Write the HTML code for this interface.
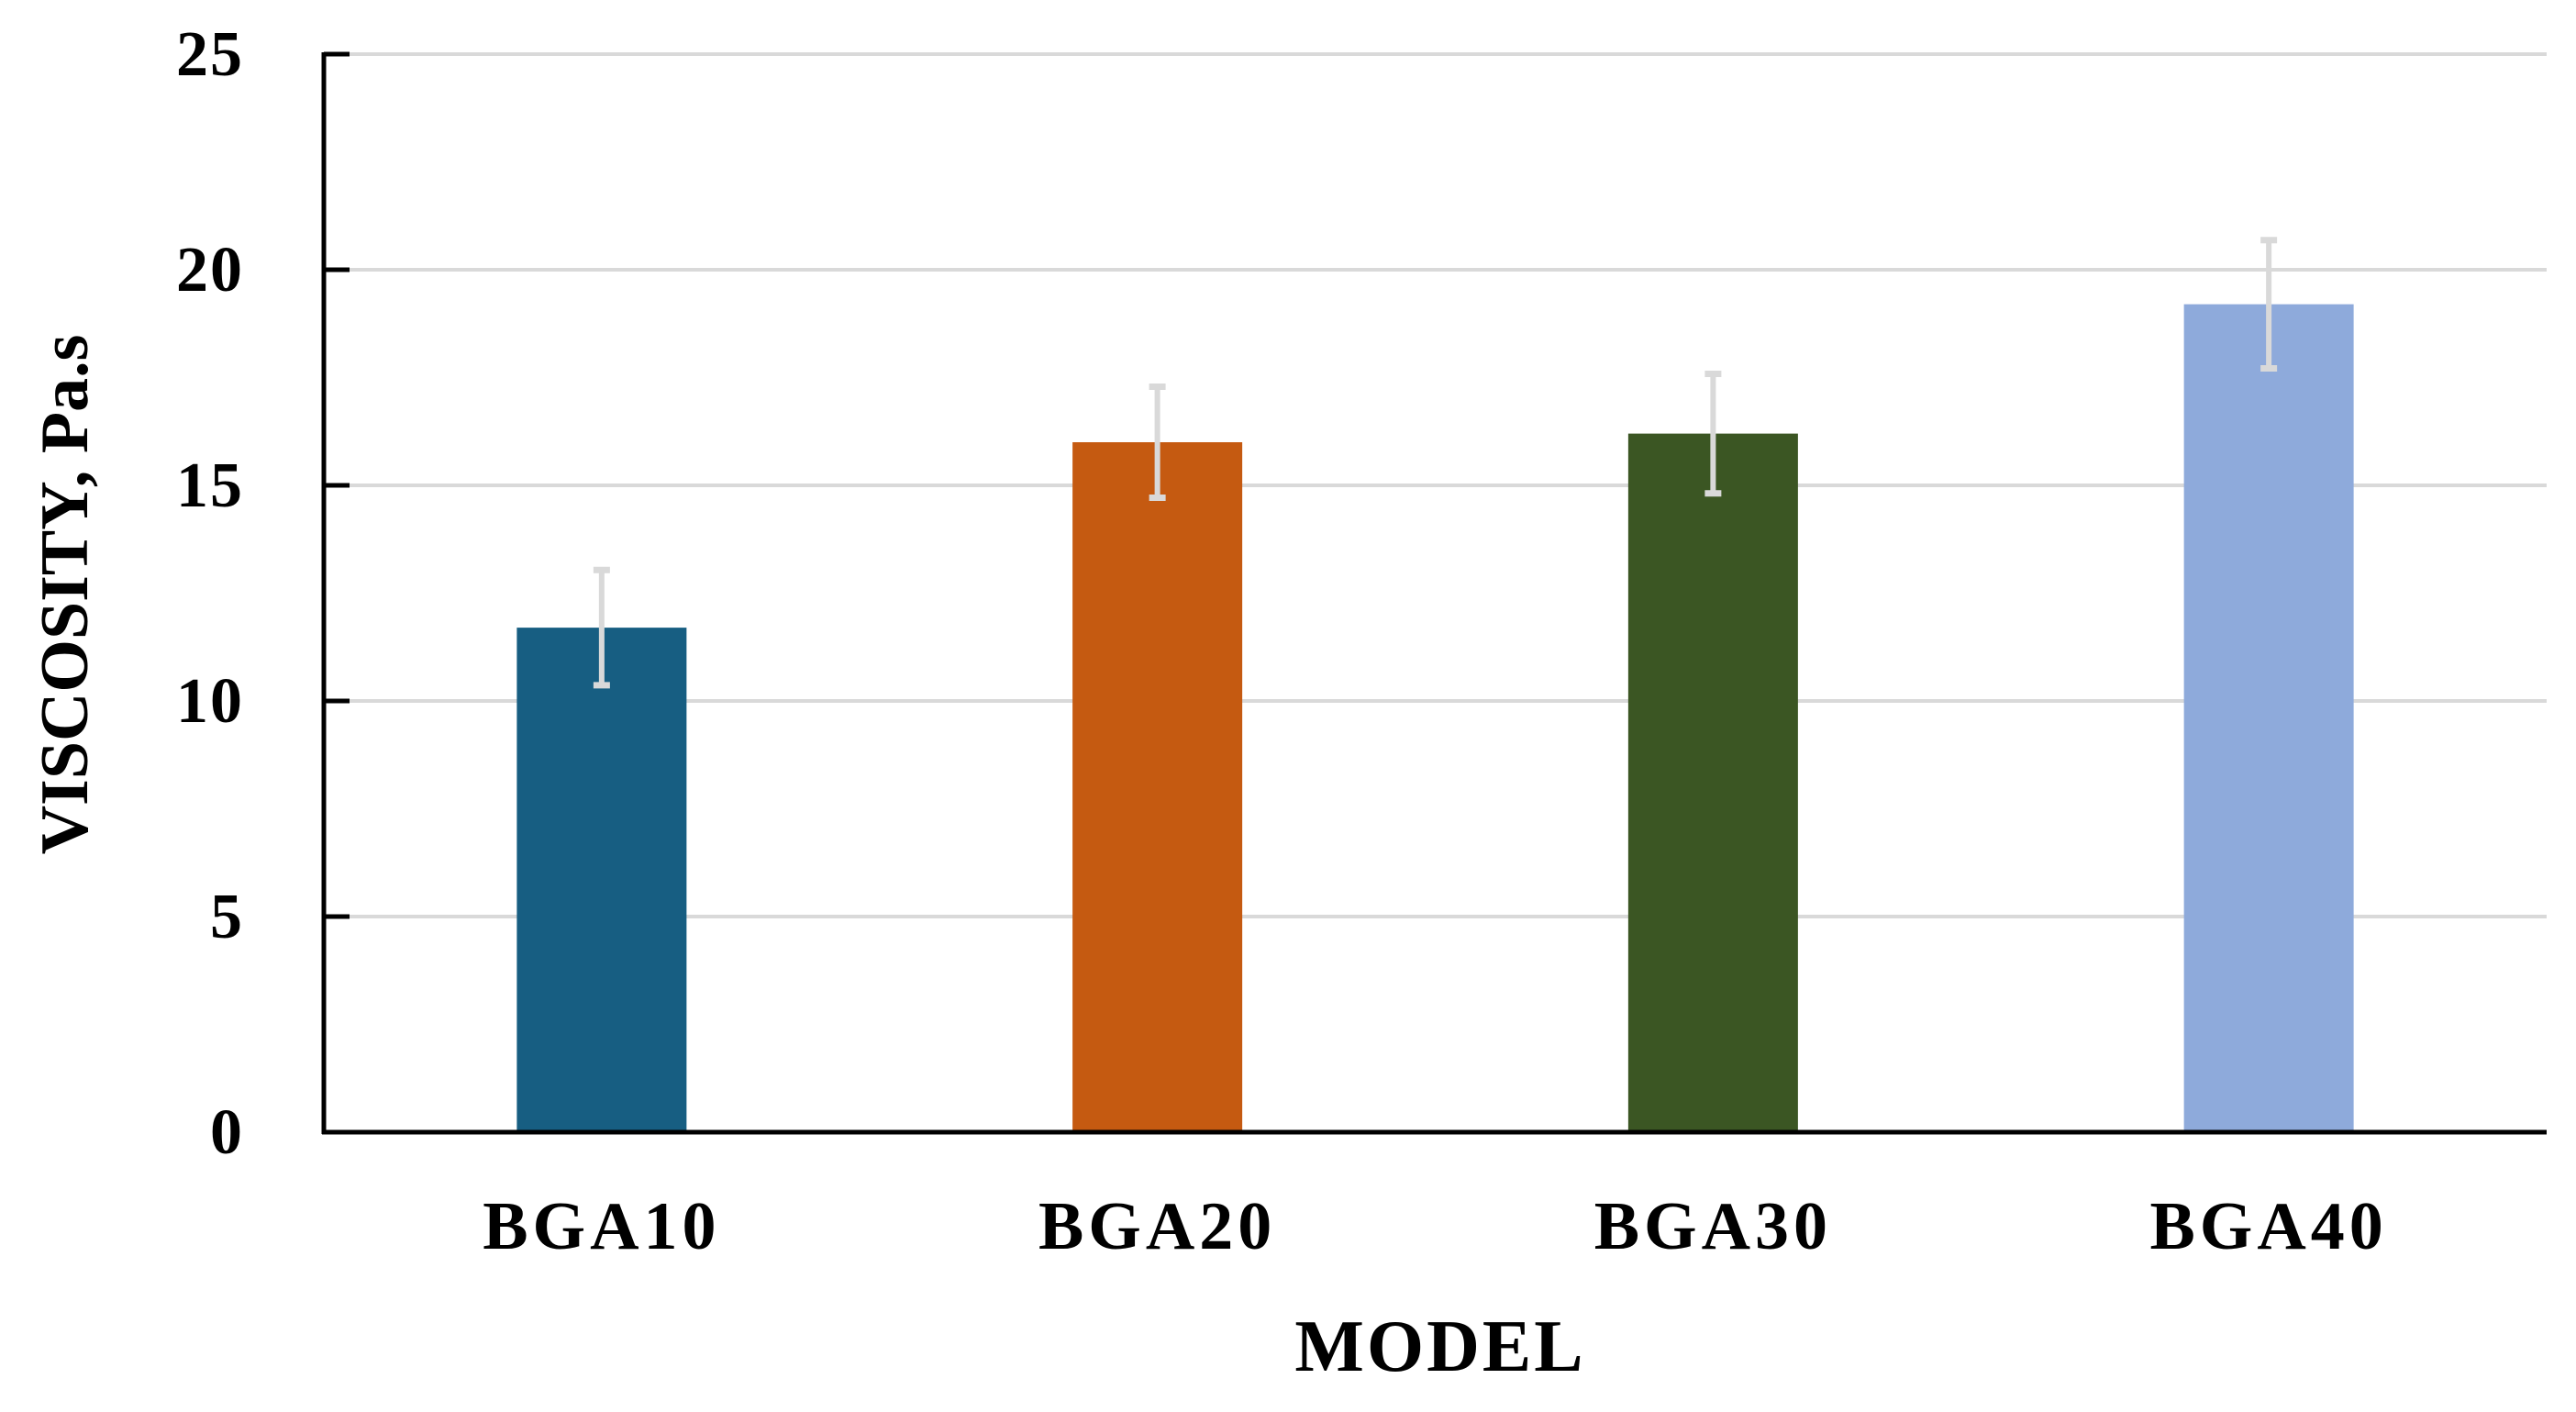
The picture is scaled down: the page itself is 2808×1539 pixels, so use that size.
<!DOCTYPE html>
<html><head><meta charset="utf-8"><style>
html,body{margin:0;padding:0;background:#fff;}
svg{display:block;}
text{font-family:"Liberation Serif",serif;font-weight:bold;fill:#000;}
</style></head><body>
<svg id="chart" width="2808" height="1539" viewBox="0 0 2808 1539" xmlns="http://www.w3.org/2000/svg"></svg>
<script>
const categories = ["BGA10","BGA20","BGA30","BGA40"];
const values = [11.7, 16.0, 16.2, 19.2];
const errors = [1.4, 1.35, 1.45, 1.55];
const colors = ["#175e82","#c55a11","#3b5623","#8eaadb"];
const yTicks = [0,5,10,15,20,25];

const NS="http://www.w3.org/2000/svg";
const svg=document.getElementById('chart');
const L=353,R=2776,T=59,B=1234,yMax=25;
const y=v=>B-(v/yMax)*(B-T);
const band=(R-L)/categories.length;
const x=i=>L+band*(i+0.5);
const barW=185;
function mk(tag,attrs,parent){const e=document.createElementNS(NS,tag);for(const k in attrs)e.setAttribute(k,attrs[k]);(parent||svg).appendChild(e);return e;}

const grid=mk('g',{});


yTicks.forEach(t=>{
  if(t>0){const g=mk('line',{x1:L,x2:R,y1:y(t),y2:y(t),stroke:'#d9d9d9','stroke-width':4},grid);
  
  }
  const tk=mk('line',{x1:L,x2:L+28,y1:y(t),y2:y(t),stroke:'#000','stroke-width':5});
  
  
  const lb=mk('text',{x:266,y:y(t)+23,'text-anchor':'end','font-size':70,'letter-spacing':2});
  lb.textContent=t;
  
  
});

categories.forEach((c,i)=>{
  const b=mk('rect',{x:x(i)-barW/2,y:y(values[i]),width:barW,height:B-y(values[i]),fill:colors[i]});
  
  
  const eg=mk('g',{stroke:'#d9d9d9'});
  
  
  const hi=y(values[i]+errors[i]),lo=y(values[i]-errors[i]);
  mk('line',{x1:x(i),x2:x(i),y1:hi,y2:lo,'stroke-width':6},eg);
  mk('line',{x1:x(i)-9,x2:x(i)+9,y1:hi+3,y2:hi+3,'stroke-width':7},eg);
  mk('line',{x1:x(i)-9,x2:x(i)+9,y1:lo-3,y2:lo-3,'stroke-width':7},eg);
  const lb=mk('text',{x:x(i),y:1361,'text-anchor':'middle','font-size':74,'letter-spacing':5});
  lb.textContent=c;
  
  
});

const ya=mk('line',{x1:L,x2:L,y1:T-2,y2:B+2,stroke:'#000','stroke-width':5});


const xa=mk('line',{x1:L-2,x2:R,y1:B,y2:B,stroke:'#000','stroke-width':5});



const xt=mk('text',{x:1570,y:1494,'text-anchor':'middle','font-size':80,'letter-spacing':3});
xt.textContent='MODEL';


const yt=mk('text',{x:0,y:0,'text-anchor':'middle','font-size':74,transform:'translate(95,648) rotate(-90)'});
yt.textContent='VISCOSITY, Pa.s';


</script>
</body></html>
